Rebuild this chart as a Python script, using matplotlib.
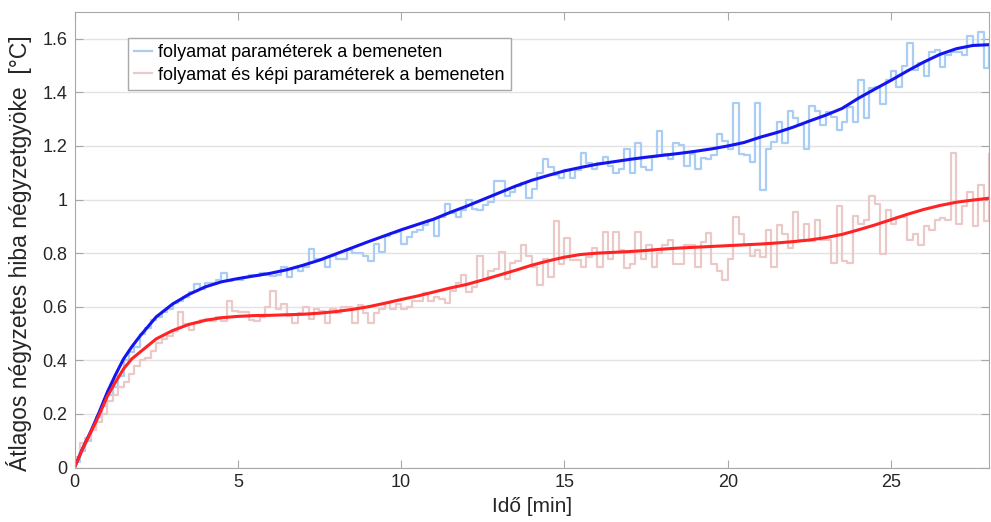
import matplotlib
matplotlib.use("Agg")
import matplotlib.pyplot as plt
import numpy as np

plt.rcParams["font.family"] = ["Liberation Sans Narrow", "Liberation Sans", "DejaVu Sans"]

# mintavételi lépés (perc)
step_min = 1 / 6

blue_steps = [
    0.02, 0.06, 0.10, 0.14, 0.19, 0.23, 0.27, 0.30, 0.34, 0.40,
    0.43, 0.45, 0.50, 0.52, 0.55, 0.56, 0.58, 0.59, 0.615, 0.62,
    0.635, 0.655, 0.685, 0.665, 0.69, 0.69, 0.70, 0.725, 0.695, 0.705,
    0.70, 0.71, 0.72, 0.715,
    0.725, 0.72, 0.715, 0.72, 0.75, 0.71, 0.745, 0.735, 0.75, 0.815,
    0.78, 0.775, 0.75, 0.79, 0.78, 0.78, 0.81, 0.80, 0.80, 0.79,
    0.77, 0.835, 0.805, 0.865, 0.875, 0.88, 0.835, 0.86, 0.88, 0.885,
    0.905, 0.925, 0.865, 0.935,
    0.985, 0.95, 0.935, 0.96, 1.0, 0.965, 0.96, 0.98, 0.99, 1.07,
    1.07, 1.015, 1.03, 1.05, 1.06, 1.005, 1.04, 1.10, 1.15, 1.12,
    1.09, 1.08, 1.11, 1.08, 1.11, 1.175, 1.135, 1.115, 1.135, 1.16,
    1.125, 1.10, 1.115, 1.19,
    1.10, 1.21, 1.12, 1.11, 1.16, 1.255, 1.17, 1.15, 1.21, 1.205,
    1.125, 1.17, 1.115, 1.155, 1.15, 1.165, 1.245, 1.22, 1.19, 1.36,
    1.17, 1.165, 1.14, 1.36, 1.035, 1.19, 1.215, 1.29, 1.21, 1.33,
    1.305, 1.28, 1.19,
    1.35, 1.33, 1.28, 1.325, 1.31, 1.26, 1.29, 1.345, 1.29, 1.445,
    1.305, 1.415, 1.42, 1.355, 1.445, 1.48, 1.42, 1.50, 1.585, 1.485,
    1.51, 1.46, 1.55, 1.56, 1.495, 1.54, 1.55, 1.55, 1.54, 1.61,
    1.575, 1.625, 1.49,
    1.58,
]

red_steps = [
    0.04, 0.09, 0.11, 0.14, 0.17, 0.20, 0.25, 0.27, 0.30, 0.32,
    0.35, 0.38, 0.40, 0.41, 0.435, 0.465, 0.48, 0.49, 0.51, 0.58,
    0.535, 0.515, 0.54, 0.55, 0.555, 0.545, 0.56, 0.545, 0.62, 0.585,
    0.58, 0.58, 0.55, 0.545,
    0.56, 0.60, 0.66, 0.59, 0.61, 0.565, 0.54, 0.575, 0.60, 0.555,
    0.59, 0.585, 0.54, 0.59, 0.575, 0.60, 0.60, 0.54, 0.605, 0.575,
    0.54, 0.575, 0.59, 0.615, 0.59, 0.61, 0.59, 0.60, 0.62, 0.62,
    0.65, 0.62, 0.635, 0.63,
    0.615, 0.66, 0.69, 0.72, 0.655, 0.675, 0.79, 0.70, 0.735, 0.74,
    0.805, 0.705, 0.765, 0.77, 0.83, 0.79, 0.75, 0.68, 0.78, 0.71,
    0.92, 0.76, 0.855, 0.775, 0.775, 0.75, 0.785, 0.82, 0.75, 0.88,
    0.78, 0.88, 0.81, 0.745,
    0.76, 0.88, 0.78, 0.83, 0.75, 0.80, 0.83, 0.85, 0.76, 0.76,
    0.83, 0.83, 0.75, 0.84, 0.875, 0.76, 0.735, 0.70, 0.78, 0.935,
    0.87, 0.83, 0.79, 0.81, 0.785, 0.885, 0.75, 0.905, 0.87, 0.82,
    0.955, 0.85, 0.91,
    0.845, 0.925, 0.85, 0.85, 0.765, 0.975, 0.77, 0.765, 0.94, 0.91,
    0.925, 1.015, 0.985, 0.795, 0.96, 0.91, 0.935, 0.935, 0.85, 0.87,
    0.83, 0.90, 0.885, 0.925, 0.93, 0.925, 1.175, 0.91, 0.975, 1.03,
    0.90, 1.055, 0.92,
    1.17,
]

# illesztett görbék (leolvasott pontok)
fit_t = [0, 0.25, 0.5, 0.75, 1.0, 1.25, 1.5, 1.75, 2.0, 2.5, 3.0, 3.5, 4.0, 4.5,
         5.0, 5.5, 6.0, 6.5, 7.0, 7.5, 8.0, 8.5, 9.0, 9.5, 10.0, 10.5, 11.0, 11.5,
         12.0, 12.5, 13.0, 13.5, 14.0, 14.5, 15.0, 15.5, 16.0, 16.5, 17.0, 17.5,
         18.0, 18.5, 19.0, 19.5, 20.0, 20.5, 21.0, 21.5, 22.0, 22.5, 23.0, 23.5,
         24.0, 24.5, 25.0, 25.5, 26.0, 26.5, 27.0, 27.5, 28.0]
blue_fit = [0, 0.072, 0.135, 0.205, 0.28, 0.345, 0.405, 0.45, 0.49, 0.562, 0.61,
            0.646, 0.674, 0.693, 0.705, 0.715, 0.725, 0.738, 0.755, 0.774, 0.797,
            0.82, 0.843, 0.865, 0.887, 0.907, 0.927, 0.952, 0.975, 1.0, 1.025, 1.05,
            1.072, 1.09, 1.107, 1.12, 1.132, 1.141, 1.15, 1.158, 1.165, 1.172, 1.18,
            1.189, 1.2, 1.213, 1.233, 1.25, 1.27, 1.293, 1.315, 1.34, 1.378, 1.412,
            1.445, 1.48, 1.513, 1.542, 1.563, 1.575, 1.578]
red_fit = [0, 0.07, 0.132, 0.195, 0.265, 0.318, 0.368, 0.405, 0.43, 0.48, 0.511,
           0.534, 0.549, 0.559, 0.564, 0.567, 0.568, 0.57, 0.572, 0.576, 0.582,
           0.59, 0.6, 0.613, 0.627, 0.64, 0.655, 0.67, 0.683, 0.7, 0.718, 0.736,
           0.755, 0.771, 0.785, 0.795, 0.8, 0.803, 0.806, 0.81, 0.815, 0.819,
           0.822, 0.825, 0.828, 0.831, 0.834, 0.838, 0.843, 0.849, 0.858, 0.87,
           0.887, 0.905, 0.925, 0.945, 0.963, 0.978, 0.99, 0.998, 1.005]

t_blue = np.arange(len(blue_steps)) * step_min
t_red = np.arange(len(red_steps)) * step_min

fig = plt.figure(figsize=(9.91, 5.22), dpi=100)
ax = fig.add_axes([0.0752, 0.1044, 0.9228, 0.8726])

ax.step(t_blue, blue_steps, where="post", color="#a9cdf3", lw=1.6,
        label="folyamat paraméterek a bemeneten")
ax.step(t_red, red_steps, where="post", color="#ebc9c9", lw=1.6,
        label="folyamat és képi paraméterek a bemeneten")
ax.plot(fit_t, blue_fit, color="#1414f0", lw=2.2)
ax.plot(fit_t, red_fit, color="#ff2323", lw=2.2)

ax.set_xlim(0, 28)
ax.set_ylim(0, 1.7)
ax.set_xticks([0, 5, 10, 15, 20, 25])
ax.set_yticks(np.arange(0, 1.61, 0.2))
ax.set_yticklabels(["0", "0.2", "0.4", "0.6", "0.8", "1", "1.2", "1.4", "1.6"])
ax.grid(True, axis="y", color="#e3e3e3", lw=1)
ax.set_axisbelow(True)

for s in ax.spines.values():
    s.set_color("#a8a8a8")
ax.tick_params(direction="in", top=True, right=True, length=6, color="#a8a8a8",
               labelsize=13, labelcolor="#262626", pad=5)

ax.set_xlabel("Idő [min]", fontsize=15, color="#262626", labelpad=4)
ax.set_ylabel("Átlagos négyzetes hiba négyzetgyöke  [°C]", fontsize=16.5,
              color="#262626", labelpad=6)
ax.yaxis.set_label_coords(-0.047, 0.47)

leg = ax.legend(loc="upper left", bbox_to_anchor=(0.0585, 0.943), borderaxespad=0,
                fontsize=13, handlelength=1.0, handletextpad=0.3, borderpad=0.35,
                labelspacing=0.3, fancybox=False, framealpha=1)
leg.get_frame().set_edgecolor("#a8a8a8")
leg.get_frame().set_linewidth(1)

fig.savefig("out.png", dpi=100)
